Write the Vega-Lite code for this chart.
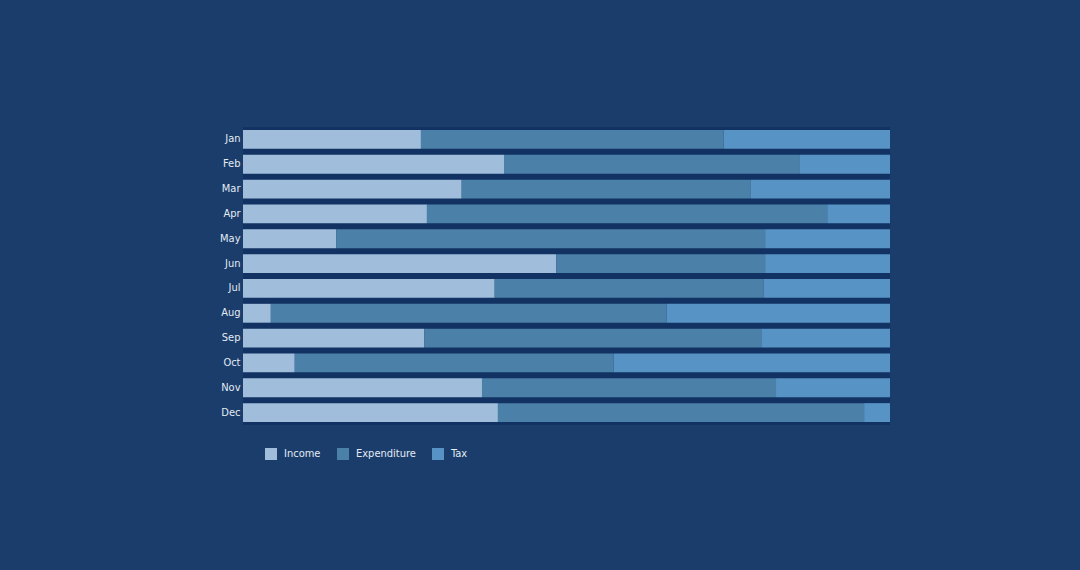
{
  "$schema": "https://vega.github.io/schema/vega-lite/v6.json",
  "width": 647,
  "height": 298,
  "autosize": {"type": "none"},
  "padding": {"left": 243, "top": 127, "right": 190, "bottom": 145},
  "background": "#1a3d6b",
  "config": {
    "view": {"fill": "#113262", "stroke": null},
    "font": "DejaVu Sans Condensed"
  },
  "data": {
    "values": [
      {"month": "Jan", "type": "Income", "k": 1, "value": 27.5},
      {"month": "Jan", "type": "Expenditure", "k": 2, "value": 46.8},
      {"month": "Jan", "type": "Tax", "k": 3, "value": 25.7},
      {"month": "Feb", "type": "Income", "k": 1, "value": 40.3},
      {"month": "Feb", "type": "Expenditure", "k": 2, "value": 45.7},
      {"month": "Feb", "type": "Tax", "k": 3, "value": 13.9},
      {"month": "Mar", "type": "Income", "k": 1, "value": 33.8},
      {"month": "Mar", "type": "Expenditure", "k": 2, "value": 44.7},
      {"month": "Mar", "type": "Tax", "k": 3, "value": 21.5},
      {"month": "Apr", "type": "Income", "k": 1, "value": 28.4},
      {"month": "Apr", "type": "Expenditure", "k": 2, "value": 61.8},
      {"month": "Apr", "type": "Tax", "k": 3, "value": 9.7},
      {"month": "May", "type": "Income", "k": 1, "value": 14.4},
      {"month": "May", "type": "Expenditure", "k": 2, "value": 66.3},
      {"month": "May", "type": "Tax", "k": 3, "value": 19.3},
      {"month": "Jun", "type": "Income", "k": 1, "value": 48.4},
      {"month": "Jun", "type": "Expenditure", "k": 2, "value": 32.3},
      {"month": "Jun", "type": "Tax", "k": 3, "value": 19.3},
      {"month": "Jul", "type": "Income", "k": 1, "value": 38.9},
      {"month": "Jul", "type": "Expenditure", "k": 2, "value": 41.6},
      {"month": "Jul", "type": "Tax", "k": 3, "value": 19.5},
      {"month": "Aug", "type": "Income", "k": 1, "value": 4.3},
      {"month": "Aug", "type": "Expenditure", "k": 2, "value": 61.2},
      {"month": "Aug", "type": "Tax", "k": 3, "value": 34.5},
      {"month": "Sep", "type": "Income", "k": 1, "value": 28.0},
      {"month": "Sep", "type": "Expenditure", "k": 2, "value": 52.1},
      {"month": "Sep", "type": "Tax", "k": 3, "value": 19.9},
      {"month": "Oct", "type": "Income", "k": 1, "value": 8.0},
      {"month": "Oct", "type": "Expenditure", "k": 2, "value": 49.3},
      {"month": "Oct", "type": "Tax", "k": 3, "value": 42.7},
      {"month": "Nov", "type": "Income", "k": 1, "value": 36.9},
      {"month": "Nov", "type": "Expenditure", "k": 2, "value": 45.4},
      {"month": "Nov", "type": "Tax", "k": 3, "value": 17.6},
      {"month": "Dec", "type": "Income", "k": 1, "value": 39.4},
      {"month": "Dec", "type": "Expenditure", "k": 2, "value": 56.6},
      {"month": "Dec", "type": "Tax", "k": 3, "value": 4.0}
    ]
  },
  "mark": {"type": "bar"},
  "encoding": {
    "y": {
      "field": "month",
      "type": "nominal",
      "sort": ["Jan", "Feb", "Mar", "Apr", "May", "Jun", "Jul", "Aug", "Sep", "Oct", "Nov", "Dec"],
      "scale": {"paddingInner": 0.24, "paddingOuter": 0.12},
      "axis": {
        "title": null,
        "domain": false,
        "ticks": false,
        "labelPadding": 3,
        "labelColor": "#e3ebf4",
        "labelFontSize": 11,
        "labelFont": "DejaVu Sans Condensed"
      }
    },
    "x": {
      "field": "value",
      "type": "quantitative",
      "stack": "normalize",
      "axis": null
    },
    "order": {"field": "k", "type": "quantitative", "sort": "ascending"},
    "color": {
      "field": "type",
      "type": "nominal",
      "sort": ["Income", "Expenditure", "Tax"],
      "scale": {
        "domain": ["Income", "Expenditure", "Tax"],
        "range": ["#a0bedb", "#4b80a8", "#5793c4"]
      },
      "legend": {
        "title": null,
        "orient": "none",
        "direction": "horizontal",
        "legendX": 22,
        "legendY": 321,
        "symbolType": "square",
        "symbolSize": 144,
        "symbolStrokeWidth": 0,
        "symbolOpacity": 1,
        "labelColor": "#e3ebf4",
        "labelFontSize": 11,
        "labelFont": "DejaVu Sans Condensed",
        "labelOffset": 7,
        "columnPadding": 16
      }
    }
  }
}
